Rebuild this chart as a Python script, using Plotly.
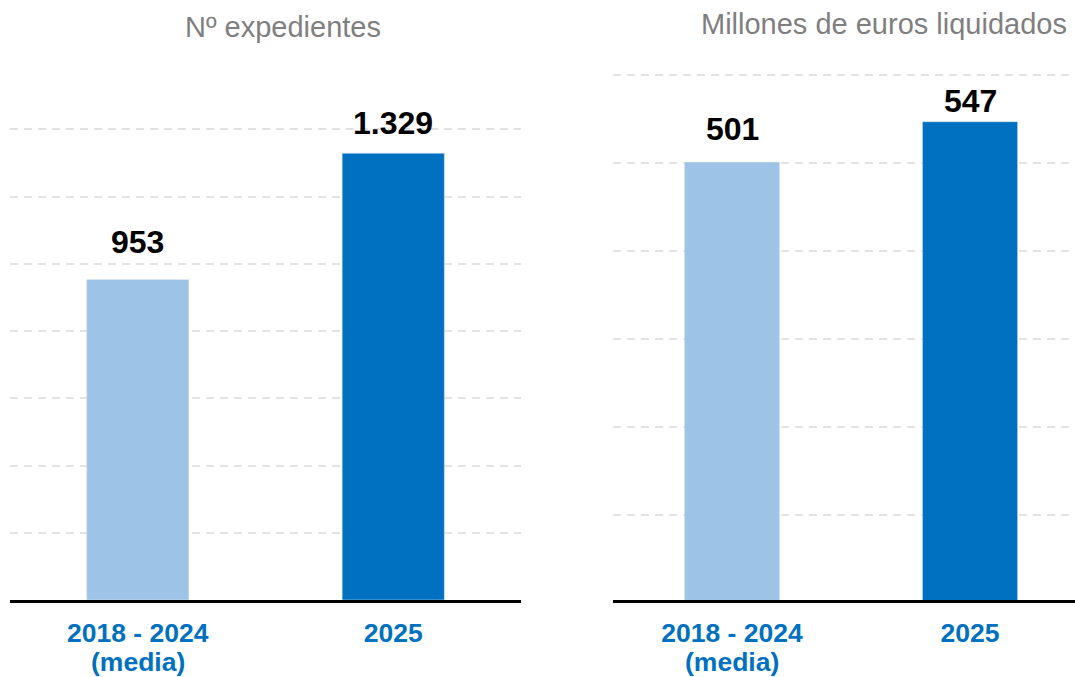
import plotly.graph_objects as go

# ---- data ----
category_main = ["2018 - 2024", "2025"]
category_sub = ["(media)", ""]
expedientes = [953, 1329]
millones = [501, 547]
expedientes_labels = ["953", "1.329"]
millones_labels = ["501", "547"]
titles = ["Nº expedientes", "Millones de euros liquidados"]
grid_exp = [0, 200, 400, 600, 800, 1000, 1200, 1400]
grid_mill = [0, 100, 200, 300, 400, 500, 600]

# ---- style ----
W, H = 1075, 677
FONT = "Liberation Sans, Arial, sans-serif"
bar_colors = ["#9DC3E6", "#0070C0"]
label_shift_exp = [18, 10]
label_shift_mill = [13, 1]
TICK_FONT = dict(family=FONT, size=26.5, color="#0070C0", weight="bold")

fig = go.Figure()
fig.add_trace(go.Bar(x=category_main, y=expedientes, marker_color=bar_colors,
                     width=0.4, xaxis="x", yaxis="y", hoverinfo="skip"))
fig.add_trace(go.Bar(x=category_main, y=millones, marker_color=bar_colors,
                     width=0.4, xaxis="x2", yaxis="y2", hoverinfo="skip"))

annotations = []
for i, (v, t, s) in enumerate(zip(expedientes, expedientes_labels, label_shift_exp)):
    annotations.append(dict(x=i, y=v, xref="x", yref="y", text=t, showarrow=False,
                            yanchor="bottom", yshift=s,
                            font=dict(family=FONT, size=32, color="#000000", weight="bold")))
for i, (v, t, s) in enumerate(zip(millones, millones_labels, label_shift_mill)):
    annotations.append(dict(x=i, y=v, xref="x2", yref="y2", text=t, showarrow=False,
                            yanchor="bottom", yshift=s,
                            font=dict(family=FONT, size=32, color="#000000", weight="bold")))
for xr in ["x", "x2"]:
    for i, sub in enumerate(category_sub):
        if sub:
            annotations.append(dict(x=i, y=1 - 662 / H, xref=xr, yref="paper", text=sub,
                                    showarrow=False, xanchor="center", yanchor="middle",
                                    font=TICK_FONT))
annotations.append(dict(x=283 / W, y=1 - 27 / H, xref="paper", yref="paper", text=titles[0],
                        showarrow=False, xanchor="center", yanchor="middle",
                        font=dict(family=FONT, size=29, color="#7F7F7F")))
annotations.append(dict(x=884 / W, y=1 - 24 / H, xref="paper", yref="paper", text=titles[1],
                        showarrow=False, xanchor="center", yanchor="middle",
                        font=dict(family=FONT, size=29, color="#7F7F7F")))

xcommon = dict(showgrid=False, showline=True, linecolor="#000000", linewidth=3,
               ticks="", zeroline=False, automargin=False, ticklabelstandoff=7,
               tickfont=TICK_FONT)
ycommon = dict(showgrid=True, gridcolor="#E3E3E3", gridwidth=2, griddash="8px,6px",
               showticklabels=False, zeroline=False, showline=False, ticks="",
               tickmode="array", automargin=False)

fig.update_layout(
    width=W, height=H, autosize=False,
    margin=dict(l=0, r=0, t=0, b=0),
    paper_bgcolor="#FFFFFF", plot_bgcolor="#FFFFFF",
    showlegend=False, bargap=0.6,
    xaxis=dict(domain=[10 / W, 521 / W], range=[-0.5, 1.5], **xcommon),
    xaxis2=dict(domain=[613 / W, 1.0], range=[-0.5, 1.441], **xcommon),
    yaxis=dict(domain=[(H - 600) / H, 1.0], range=[0, 600 / 0.3362],
               tickvals=grid_exp, anchor="x", **ycommon),
    yaxis2=dict(domain=[(H - 603) / H, 1.0], range=[0, 603 / 0.88],
                tickvals=grid_mill, anchor="x2", **ycommon),
    annotations=annotations,
)

fig.write_html("out.html", config={"displayModeBar": False},
               post_script="document.body.style.margin='0';document.body.style.overflow='hidden';")
